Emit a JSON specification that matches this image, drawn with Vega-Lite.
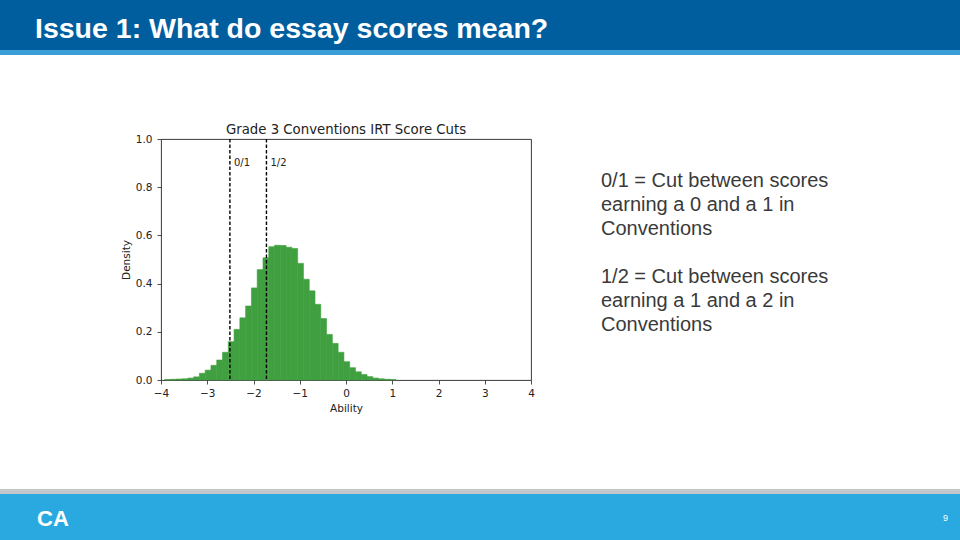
{
  "$schema": "https://vega.github.io/schema/vega-lite/v6.json",
  "padding": 0,
  "background": "#ffffff",
  "spacing": 0,
  "config": {"view": {"stroke": null}, "concat": {"spacing": 0}},
  "vconcat": [
    {
      "spacing": 0,
      "hconcat": [
        {"width": 35, "height": 50, "view": {"fill": "#005e9f"}, "data": {"values": []}, "mark": "point", "encoding": {}},
        {
          "width": 925, "height": 50, "view": {"fill": "#005e9f"},
          "data": {"values": [{"t": "Issue 1: What do essay scores mean?"}]},
          "mark": {"type": "text", "align": "left", "baseline": "middle", "dy": 4, "font": "Liberation Sans", "fontSize": 28.5, "fontWeight": "bold", "color": "#ffffff"},
          "encoding": {
            "x": {"datum": 0, "type": "quantitative", "scale": {"domain": [0, 1]}, "axis": null},
            "text": {"field": "t"}
          }
        }
      ]
    },
    {"width": 960, "height": 5, "view": {"fill": "#3a9fd6"}, "data": {"values": []}, "mark": "point", "encoding": {}},
    {
      "spacing": 0,
      "hconcat": [
        {"width": 120, "height": 434, "data": {"values": []}, "mark": "point", "encoding": {}},
        {
          "spacing": 0,
          "vconcat": [
            {"width": 370, "height": 67, "data": {"values": []}, "mark": "point", "encoding": {}},
            {
              "width": 370, "height": 241,
              "view": {"stroke": "#222222", "strokeWidth": 0.9},
              "title": {"text": "Grade 3 Conventions IRT Score Cuts", "anchor": "middle", "font": "DejaVu Sans", "fontSize": 13.3, "fontWeight": "normal", "color": "#222222", "offset": -2},
              "layer": [
                {
                  "data": {"values": [
                    {"bin_start": -3.92, "bin_end": -3.795, "density": 0.002},
                    {"bin_start": -3.795, "bin_end": -3.67, "density": 0.003},
                    {"bin_start": -3.67, "bin_end": -3.545, "density": 0.004},
                    {"bin_start": -3.545, "bin_end": -3.42, "density": 0.005},
                    {"bin_start": -3.42, "bin_end": -3.295, "density": 0.008},
                    {"bin_start": -3.295, "bin_end": -3.17, "density": 0.013},
                    {"bin_start": -3.17, "bin_end": -3.045, "density": 0.028},
                    {"bin_start": -3.045, "bin_end": -2.92, "density": 0.041},
                    {"bin_start": -2.92, "bin_end": -2.795, "density": 0.061},
                    {"bin_start": -2.795, "bin_end": -2.67, "density": 0.083},
                    {"bin_start": -2.67, "bin_end": -2.545, "density": 0.115},
                    {"bin_start": -2.545, "bin_end": -2.42, "density": 0.159},
                    {"bin_start": -2.42, "bin_end": -2.295, "density": 0.21},
                    {"bin_start": -2.295, "bin_end": -2.17, "density": 0.258},
                    {"bin_start": -2.17, "bin_end": -2.045, "density": 0.307},
                    {"bin_start": -2.045, "bin_end": -1.92, "density": 0.382},
                    {"bin_start": -1.92, "bin_end": -1.795, "density": 0.458},
                    {"bin_start": -1.795, "bin_end": -1.67, "density": 0.507},
                    {"bin_start": -1.67, "bin_end": -1.545, "density": 0.553},
                    {"bin_start": -1.545, "bin_end": -1.42, "density": 0.559},
                    {"bin_start": -1.42, "bin_end": -1.295, "density": 0.558},
                    {"bin_start": -1.295, "bin_end": -1.17, "density": 0.551},
                    {"bin_start": -1.17, "bin_end": -1.045, "density": 0.546},
                    {"bin_start": -1.045, "bin_end": -0.92, "density": 0.484},
                    {"bin_start": -0.92, "bin_end": -0.795, "density": 0.418},
                    {"bin_start": -0.795, "bin_end": -0.67, "density": 0.37},
                    {"bin_start": -0.67, "bin_end": -0.545, "density": 0.314},
                    {"bin_start": -0.545, "bin_end": -0.42, "density": 0.255},
                    {"bin_start": -0.42, "bin_end": -0.295, "density": 0.189},
                    {"bin_start": -0.295, "bin_end": -0.17, "density": 0.152},
                    {"bin_start": -0.17, "bin_end": -0.045, "density": 0.115},
                    {"bin_start": -0.045, "bin_end": 0.08, "density": 0.076},
                    {"bin_start": 0.08, "bin_end": 0.205, "density": 0.051},
                    {"bin_start": 0.205, "bin_end": 0.33, "density": 0.034},
                    {"bin_start": 0.33, "bin_end": 0.455, "density": 0.023},
                    {"bin_start": 0.455, "bin_end": 0.58, "density": 0.014},
                    {"bin_start": 0.58, "bin_end": 0.705, "density": 0.008},
                    {"bin_start": 0.705, "bin_end": 0.83, "density": 0.005},
                    {"bin_start": 0.83, "bin_end": 0.955, "density": 0.003},
                    {"bin_start": 0.955, "bin_end": 1.08, "density": 0.002}
                  ]},
                  "mark": {"type": "rect", "color": "#40a040", "stroke": "#40a040", "strokeWidth": 0.6},
                  "encoding": {
                    "x": {
                      "field": "bin_start", "type": "quantitative",
                      "scale": {"domain": [-4, 4], "nice": false, "zero": false},
                      "axis": {"title": "Ability", "values": [-4, -3, -2, -1, 0, 1, 2, 3, 4], "format": "d", "grid": false, "domain": false, "tickSize": 4, "tickWidth": 0.8, "tickColor": "#222222", "labelFont": "DejaVu Sans", "labelFontSize": 10.5, "labelColor": "#222222", "labelPadding": 4, "labelFlush": false, "labelOverlap": false, "titleFont": "DejaVu Sans", "titleFontSize": 10.5, "titleFontWeight": "normal", "titleColor": "#222222", "titlePadding": 5}
                    },
                    "x2": {"field": "bin_end"},
                    "y": {
                      "field": "density", "type": "quantitative",
                      "scale": {"domain": [0, 1], "nice": false},
                      "axis": {"title": "Density", "values": [0, 0.2, 0.4, 0.6, 0.8, 1], "format": ".1f", "grid": false, "domain": false, "tickSize": 4, "tickWidth": 0.8, "tickColor": "#222222", "labelFont": "DejaVu Sans", "labelFontSize": 10.5, "labelColor": "#222222", "labelPadding": 5, "labelFlush": false, "labelOverlap": false, "titleFont": "DejaVu Sans", "titleFontSize": 10.5, "titleFontWeight": "normal", "titleColor": "#222222", "titlePadding": 4}
                    },
                    "y2": {"datum": 0}
                  }
                },
                {
                  "data": {"values": [{"cut": -2.51, "label": "0/1"}, {"cut": -1.72, "label": "1/2"}]},
                  "mark": {"type": "rule", "color": "#000000", "strokeDash": [3.5, 2], "strokeWidth": 1.4},
                  "encoding": {"x": {"field": "cut", "type": "quantitative"}}
                },
                {
                  "data": {"values": [{"cut": -2.51, "label": "0/1"}, {"cut": -1.72, "label": "1/2"}]},
                  "mark": {"type": "text", "align": "left", "baseline": "middle", "dx": 4, "font": "DejaVu Sans", "fontSize": 10, "color": "#222222"},
                  "encoding": {
                    "x": {"field": "cut", "type": "quantitative"},
                    "y": {"datum": 0.9, "type": "quantitative"},
                    "text": {"field": "label"}
                  }
                }
              ]
            }
          ]
        },
        {"width": 66, "height": 10, "data": {"values": []}, "mark": "point", "encoding": {}},
        {
          "spacing": 0,
          "vconcat": [
            {"width": 358, "height": 113, "data": {"values": []}, "mark": "point", "encoding": {}},
            {
              "width": 358, "height": 168,
              "data": {"values": [
                {"row": 1, "line": "0/1 = Cut between scores"},
                {"row": 2, "line": "earning a 0 and a 1 in"},
                {"row": 3, "line": "Conventions"},
                {"row": 5, "line": "1/2 = Cut between scores"},
                {"row": 6, "line": "earning a 1 and a 2 in"},
                {"row": 7, "line": "Conventions"}
              ]},
              "mark": {"type": "text", "align": "left", "baseline": "middle", "dy": 1, "font": "Liberation Sans", "fontSize": 20, "color": "#3a3a3a"},
              "encoding": {
                "x": {"datum": 0, "type": "quantitative", "scale": {"domain": [0, 1]}, "axis": null},
                "y": {"field": "row", "type": "ordinal", "scale": {"type": "point", "domain": [1, 2, 3, 4, 5, 6, 7], "padding": 0.5}, "axis": null},
                "text": {"field": "line"}
              }
            }
          ]
        }
      ]
    },
    {"width": 960, "height": 5, "view": {"fill": "#c1c7cb"}, "data": {"values": []}, "mark": "point", "encoding": {}},
    {
      "spacing": 0,
      "hconcat": [
        {"width": 37, "height": 46, "view": {"fill": "#29a9e0"}, "data": {"values": []}, "mark": "point", "encoding": {}},
        {
          "width": 911, "height": 46, "view": {"fill": "#29a9e0"},
          "layer": [
            {
              "data": {"values": [{"t": "CA"}]},
              "mark": {"type": "text", "align": "left", "baseline": "middle", "dy": 2, "font": "Liberation Sans", "fontSize": 22, "fontWeight": "bold", "color": "#ffffff"},
              "encoding": {
                "x": {"datum": 0, "type": "quantitative", "scale": {"domain": [0, 1]}, "axis": null},
                "text": {"field": "t"}
              }
            },
            {
              "data": {"values": [{"t": "9"}]},
              "mark": {"type": "text", "align": "right", "baseline": "middle", "dy": 1, "font": "Liberation Sans", "fontSize": 9, "color": "#ffffff"},
              "encoding": {
                "x": {"datum": 1, "type": "quantitative"},
                "text": {"field": "t"}
              }
            }
          ]
        },
        {"width": 12, "height": 46, "view": {"fill": "#29a9e0"}, "data": {"values": []}, "mark": "point", "encoding": {}}
      ]
    }
  ]
}
